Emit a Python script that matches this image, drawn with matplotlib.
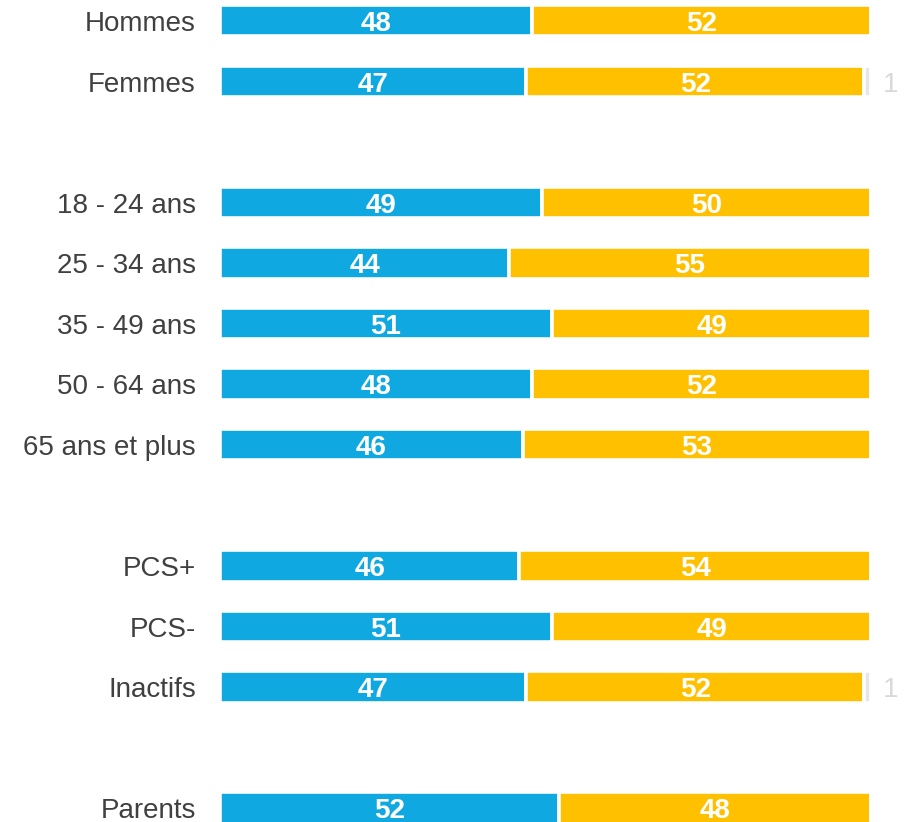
import numpy as np
import matplotlib.pyplot as plt

plt.rcParams['font.family'] = ['Liberation Sans', 'DejaVu Sans']

categories = ['Hommes', 'Femmes', '18 - 24 ans', '25 - 34 ans', '35 - 49 ans',
              '50 - 64 ans', '65 ans et plus', 'PCS+', 'PCS-', 'Inactifs', 'Parents']
rows = [0, 1, 3, 4, 5, 6, 7, 9, 10, 11, 13]

blue = [48, 47, 49.4, 44.4, 51, 48, 46.5, 46, 51, 47, 52]
yellow = [52, 52, 50.6, 55.6, 49, 52, 53.5, 54, 49, 52, 48]
other = [0, 1, 0, 0, 0, 0, 0, 0, 0, 1, 0]

blue_lbl = ['48', '47', '49', '44', '51', '48', '46', '46', '51', '47', '52']
yellow_lbl = ['52', '52', '50', '55', '49', '52', '53', '54', '49', '52', '48']
other_lbl = ['', '1', '', '', '', '', '', '', '', '1', '']

c_blue = '#10A8E0'
c_yellow = '#FFC000'
c_other = '#E6E6E6'

fig = plt.figure(figsize=(9.09, 8.22), dpi=100)
ax = fig.add_axes([220 / 909, 0, 651 / 909, 1])

y = np.array(rows)
blue = np.array(blue)
yellow = np.array(yellow)
other = np.array(other)
h = 0.52
kw = dict(height=h, edgecolor='white', linewidth=2.6, clip_on=False)

ax.barh(y, blue, color=c_blue, **kw)
ax.barh(y, yellow, left=blue, color=c_yellow, **kw)
ax.barh(y, other, left=blue + yellow, color=c_other, **kw)

# baseline shifted down by half the cap height so digits sit centred in the bar
base = y + 0.17
for i in range(len(rows)):
    ax.text(blue[i] / 2, base[i], blue_lbl[i], ha='center', va='baseline',
            color='white', fontsize=20, fontweight='bold')
    ax.text(blue[i] + yellow[i] / 2, base[i], yellow_lbl[i], ha='center', va='baseline',
            color='white', fontsize=20, fontweight='bold')
    if other_lbl[i]:
        ax.text(101.8, base[i], other_lbl[i], ha='left', va='baseline',
                color='#D9D9D9', fontsize=20)
    ax.text(-3.7, base[i], categories[i], ha='right', va='baseline',
            color='#404040', fontsize=20)

ax.set_xlim(0, 100)
ax.set_ylim(13.23, -0.342)
ax.axis('off')

fig.savefig('out.png', dpi=100)
